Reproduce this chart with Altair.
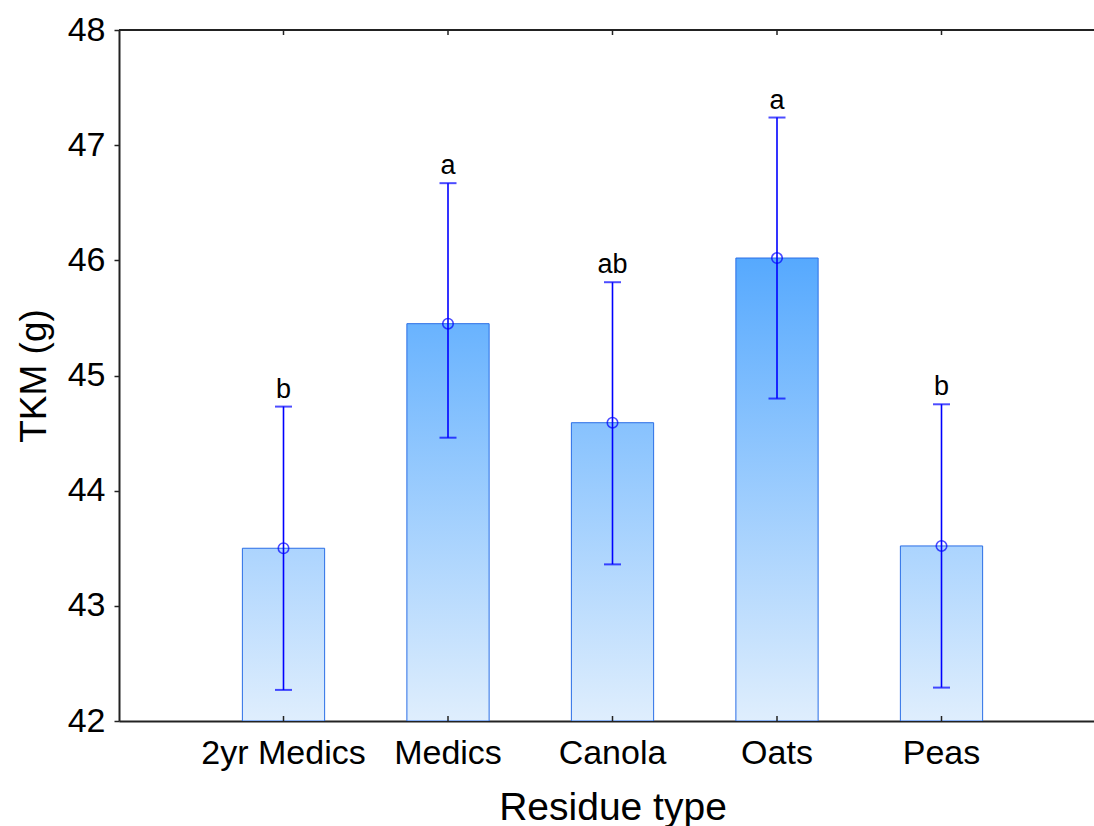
import altair as alt
import pandas as pd

# Thousand-kernel mass by residue type: means with 95% confidence limits
residue = ["2yr Medics", "Medics", "Canola", "Oats", "Peas"]
tkm_mean = [43.50, 45.45, 44.59, 46.02, 43.52]
ci_upper = [44.73, 46.67, 45.81, 47.24, 44.75]
ci_lower = [42.27, 44.46, 43.36, 44.80, 42.29]
groups = ["b", "a", "ab", "a", "b"]

Y_MIN, Y_MAX = 42, 48
W, H = 975, 691

df = pd.DataFrame({
    "residue": residue,
    "mean": tkm_mean,
    "upper": ci_upper,
    "lower": ci_lower,
    "group": groups,
})

FONT = "Liberation Sans"
x_scale = alt.Scale(domain=residue, range=[0, 987], paddingInner=0.5, paddingOuter=0.75)
y_scale = alt.Scale(domain=[Y_MIN, Y_MAX], nice=False, zero=False)

x_enc = alt.X("residue:N", scale=x_scale, sort=residue,
              axis=alt.Axis(title="Residue type", labelAngle=0, ticks=False,
                            labelFontSize=34, titleFontSize=39, labelPadding=15,
                            titlePadding=18, labelColor="black", titleColor="black",
                            titleFontWeight="normal", domainColor="#222222",
                            domainWidth=2, grid=False, labelFont=FONT, titleFont=FONT))
y_axis = alt.Axis(title="TKM (g)", values=list(range(Y_MIN, Y_MAX + 1)), format="d",
                  tickSize=5, tickColor="#222222", tickWidth=1.5, labelFontSize=34,
                  titleFontSize=37, labelPadding=9, titlePadding=14, labelColor="black",
                  titleColor="black", titleFontWeight="normal", domainColor="#222222",
                  domainWidth=2, grid=False, labelFont=FONT, titleFont=FONT)

# Blue gradient anchored to the value axis: light at 42, saturated toward 48
C_LOW = (223, 238, 253)
C_HIGH = (18, 135, 255)


def shade(v):
    f = (v - Y_MIN) / (Y_MAX - Y_MIN)
    r, g, b = (round(lo + (hi - lo) * f) for lo, hi in zip(C_LOW, C_HIGH))
    return f"#{r:02x}{g:02x}{b:02x}"


base = alt.Chart(df)

bars = []
for name, m in zip(residue, tkm_mean):
    grad = alt.Gradient(
        gradient="linear", x1=0, x2=0, y1=1, y2=0,
        stops=[alt.GradientStop(color=shade(Y_MIN), offset=0),
               alt.GradientStop(color=shade(m), offset=1)],
    )
    bars.append(
        base.transform_filter(alt.datum.residue == name)
        .mark_bar(color=grad, stroke="#2a6ee6", strokeWidth=1, clip=True)
        .encode(x=x_enc, y=alt.Y("mean:Q", scale=y_scale, axis=y_axis),
                y2=alt.Y2(datum=Y_MIN))
    )

whisker = base.mark_rule(color="#0000ff", strokeWidth=1.6).encode(
    x=alt.X("residue:N", scale=x_scale, sort=residue),
    y=alt.Y("lower:Q", scale=y_scale),
    y2="upper:Q",
)
cap_hi = base.mark_tick(color="#0000ff", size=17, thickness=2, orient="horizontal").encode(
    x=alt.X("residue:N", scale=x_scale, sort=residue),
    y=alt.Y("upper:Q", scale=y_scale),
)
cap_lo = base.mark_tick(color="#0000ff", size=17, thickness=2, orient="horizontal").encode(
    x=alt.X("residue:N", scale=x_scale, sort=residue),
    y=alt.Y("lower:Q", scale=y_scale),
)
means = base.mark_point(shape="circle", filled=False, color="#0000ff", size=110,
                        strokeWidth=1.6).encode(
    x=alt.X("residue:N", scale=x_scale, sort=residue),
    y=alt.Y("mean:Q", scale=y_scale),
)
letters = base.mark_text(fontSize=27, font=FONT, color="black", baseline="bottom",
                         dy=-3).encode(
    x=alt.X("residue:N", scale=x_scale, sort=residue),
    y=alt.Y("upper:Q", scale=y_scale),
    text="group:N",
)

# frame line along the top and inward category ticks on top and bottom edges
top_line = base.mark_rule(color="#222222", strokeWidth=2).encode(
    x=alt.value(0), x2=alt.value(W + 20), y=alt.value(0))
top_ticks = base.mark_rule(color="#222222", strokeWidth=1.5).encode(
    x=alt.X("residue:N", scale=x_scale, sort=residue),
    y=alt.value(0), y2=alt.value(5))
bottom_ticks = base.mark_rule(color="#222222", strokeWidth=1.5).encode(
    x=alt.X("residue:N", scale=x_scale, sort=residue),
    y=alt.value(H - 5), y2=alt.value(H))

chart = alt.layer(
    *bars, whisker, cap_hi, cap_lo, means, letters, top_line, top_ticks, bottom_ticks
).properties(
    width=W, height=H,
    autosize=alt.AutoSizeParams(type="none"),
    padding={"left": 119, "top": 30, "right": 0, "bottom": 105},
    background="white",
).configure_view(stroke=None)

chart.save("out.html", embed_options={"renderer": "svg", "actions": False})
